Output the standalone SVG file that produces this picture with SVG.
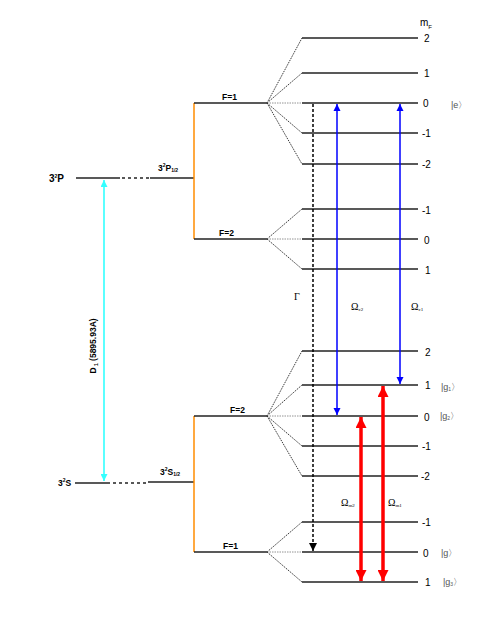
<svg xmlns="http://www.w3.org/2000/svg" width="485" height="627" viewBox="0 0 485 627">
<style>
.lv{stroke:#222;stroke-width:1.6;fill:none}
.fan{stroke:#222;stroke-width:0.9;stroke-dasharray:1.5,1;fill:none}
.fan0{stroke:#888;stroke-width:0.9;stroke-dasharray:1.5,1;fill:none}
.or{stroke:#ff8c00;stroke-width:1.5;fill:none}
.dot{stroke:#222;stroke-width:1.6;stroke-dasharray:3,3;fill:none}
.b{font-family:"Liberation Sans",Arial,sans-serif;font-weight:bold;font-size:8.5px;fill:#000}
.bl{font-family:"Liberation Sans",Arial,sans-serif;font-weight:bold;font-size:10px;fill:#000}
.n{font-family:"Liberation Sans",Arial,sans-serif;font-size:10px;fill:#000}
.s{font-family:"Liberation Sans",Arial,sans-serif;font-size:9px;fill:#555}
.om{font-family:"Liberation Serif","Times New Roman",serif;font-size:10px;fill:#000}
.sub{font-size:5px}
</style>
<defs>
<marker id="bh" viewBox="0 0 10 10" refX="10" refY="5" markerWidth="7" markerHeight="9" markerUnits="userSpaceOnUse" orient="auto-start-reverse"><path d="M0,0 L10,5 L0,10 z" fill="#0000ff"/></marker>
<marker id="rh" viewBox="0 0 10 10" refX="10" refY="5" markerWidth="12" markerHeight="11" markerUnits="userSpaceOnUse" orient="auto-start-reverse"><path d="M0,0 L10,5 L0,10 z" fill="#ff0000"/></marker>
<marker id="ch" viewBox="0 0 10 10" refX="10" refY="5" markerWidth="8" markerHeight="7" markerUnits="userSpaceOnUse" orient="auto-start-reverse"><path d="M0,0 L10,5 L0,10 z" fill="#33ffff"/></marker>
<marker id="kh" viewBox="0 0 10 10" refX="10" refY="5" markerWidth="9" markerHeight="8" markerUnits="userSpaceOnUse" orient="auto"><path d="M0,0 L10,5 L0,10 z" fill="#000"/></marker>
</defs>

<g id="fine-P">
<line class="lv" x1="76" y1="178" x2="120" y2="178"/>
<line class="dot" x1="122" y1="178" x2="150" y2="178"/>
<line class="lv" x1="150" y1="178" x2="194" y2="178"/>
<text class="bl" x="49" y="182">3<tspan class="sub" dy="-4">2</tspan><tspan dy="4">P</tspan></text>
<text class="b" x="158" y="171">3<tspan class="sub" dy="-4">2</tspan><tspan dy="4">P</tspan><tspan class="sub" dy="1">1/2</tspan></text>
<line class="or" x1="194" y1="103" x2="194" y2="239"/>
</g>

<g id="fine-S">
<line class="lv" x1="75" y1="483" x2="110" y2="483"/>
<line class="dot" x1="113" y1="483" x2="148" y2="483"/>
<line class="lv" x1="148" y1="482" x2="194" y2="482"/>
<text class="b" x="58" y="486">3<tspan class="sub" dy="-4">2</tspan><tspan dy="4">S</tspan></text>
<text class="b" x="160" y="475">3<tspan class="sub" dy="-4">2</tspan><tspan dy="4">S</tspan><tspan class="sub" dy="1">1/2</tspan></text>
<line class="or" x1="194" y1="416" x2="194" y2="552"/>
</g>

<g id="P-F1">
<line class="lv" x1="194" y1="103" x2="267" y2="103"/>
<text class="b" x="222" y="100">F=1</text>
<line class="fan" x1="267" y1="103" x2="302" y2="38"/>
<line class="fan" x1="267" y1="103" x2="302" y2="73"/>
<line class="fan0" x1="267" y1="103" x2="302" y2="103"/>
<line class="fan" x1="267" y1="103" x2="302" y2="133"/>
<line class="fan" x1="267" y1="103" x2="302" y2="164"/>
<line class="lv" x1="302" y1="38" x2="418" y2="38"/>
<line class="lv" x1="302" y1="73" x2="418" y2="73"/>
<line class="lv" x1="302" y1="103" x2="418" y2="103"/>
<line class="lv" x1="302" y1="133" x2="418" y2="133"/>
<line class="lv" x1="302" y1="164" x2="418" y2="164"/>
<text class="n" x="424" y="42">2</text>
<text class="n" x="424" y="77">1</text>
<text class="n" x="423" y="107">0</text>
<text class="n" x="422" y="137">-1</text>
<text class="n" x="422" y="168">-2</text>
<text class="n" x="420" y="26" font-size="13">m<tspan font-size="6" dy="3">F</tspan></text>
<text class="s" x="451" y="108">|e〉</text>
</g>

<g id="P-F2">
<line class="lv" x1="194" y1="239" x2="267" y2="239"/>
<text class="b" x="219" y="236">F=2</text>
<line class="fan" x1="267" y1="239" x2="302" y2="209"/>
<line class="fan0" x1="267" y1="239" x2="302" y2="239"/>
<line class="fan" x1="267" y1="239" x2="302" y2="269"/>
<line class="lv" x1="302" y1="209" x2="418" y2="209"/>
<line class="lv" x1="302" y1="239" x2="418" y2="239"/>
<line class="lv" x1="302" y1="269" x2="418" y2="269"/>
<text class="n" x="422" y="214">-1</text>
<text class="n" x="424" y="244">0</text>
<text class="n" x="425" y="274">1</text>
</g>

<g id="S-F2">
<line class="lv" x1="194" y1="416" x2="267" y2="416"/>
<text class="b" x="230" y="413">F=2</text>
<line class="fan" x1="267" y1="416" x2="302" y2="351"/>
<line class="fan" x1="267" y1="416" x2="302" y2="385"/>
<line class="fan0" x1="267" y1="416" x2="302" y2="416"/>
<line class="fan" x1="267" y1="416" x2="302" y2="446"/>
<line class="fan" x1="267" y1="416" x2="302" y2="476"/>
<line class="lv" x1="302" y1="351" x2="418" y2="351"/>
<line class="lv" x1="302" y1="385" x2="418" y2="385"/>
<line class="lv" x1="302" y1="416" x2="418" y2="416"/>
<line class="lv" x1="302" y1="446" x2="418" y2="446"/>
<line class="lv" x1="302" y1="476" x2="418" y2="476"/>
<text class="n" x="425" y="356">2</text>
<text class="n" x="425" y="389">1</text>
<text class="n" x="424" y="421">0</text>
<text class="n" x="422" y="450">-1</text>
<text class="n" x="421" y="480">-2</text>
<text class="s" x="441" y="390">|g<tspan font-size="5" dy="1">1</tspan><tspan dy="-1">〉</tspan></text>
<text class="s" x="440" y="419">|g<tspan font-size="5" dy="1">2</tspan><tspan dy="-1">〉</tspan></text>
</g>

<g id="S-F1">
<line class="lv" x1="194" y1="552" x2="267" y2="552"/>
<text class="b" x="223" y="549">F=1</text>
<line class="fan" x1="267" y1="552" x2="302" y2="522"/>
<line class="fan0" x1="267" y1="552" x2="302" y2="552"/>
<line class="fan" x1="267" y1="552" x2="302" y2="582"/>
<line class="lv" x1="302" y1="522" x2="418" y2="522"/>
<line class="lv" x1="302" y1="552" x2="418" y2="552"/>
<line class="lv" x1="302" y1="582" x2="418" y2="582"/>
<text class="n" x="422" y="526">-1</text>
<text class="n" x="423" y="557">0</text>
<text class="n" x="425" y="586">1</text>
<text class="s" x="441" y="556">|g〉</text>
<text class="s" x="443" y="585">|g<tspan font-size="5" dy="1">3</tspan><tspan dy="-1">〉</tspan></text>
</g>

<g id="connectors">
<line x1="104" y1="180" x2="104" y2="481" stroke="#33ffff" stroke-width="1.6" marker-start="url(#ch)" marker-end="url(#ch)"/>
<line x1="313" y1="104" x2="313" y2="551" stroke="#000" stroke-width="1.5" stroke-dasharray="3,2" marker-end="url(#kh)"/>
<line x1="337" y1="104" x2="337" y2="415" stroke="#0000ff" stroke-width="1.5" marker-start="url(#bh)" marker-end="url(#bh)"/>
<line x1="400" y1="104" x2="400" y2="384" stroke="#0000ff" stroke-width="1.5" marker-start="url(#bh)" marker-end="url(#bh)"/>
<line x1="361" y1="417" x2="361" y2="581" stroke="#ff0000" stroke-width="3.5" marker-start="url(#rh)" marker-end="url(#rh)"/>
<line x1="383" y1="386" x2="383" y2="581" stroke="#ff0000" stroke-width="3.5" marker-start="url(#rh)" marker-end="url(#rh)"/>
</g>

<g id="labels">
<text class="b" transform="translate(96,346) rotate(-90)" text-anchor="middle">D<tspan class="sub" dy="2"> 1</tspan><tspan dy="-2"> (5895.93A)</tspan></text>
<text class="om" x="294" y="300">Γ</text>
<text class="om" x="351" y="310">Ω<tspan font-size="5" dy="1">c2</tspan></text>
<text class="om" x="411" y="310">Ω<tspan font-size="5" dy="1">c1</tspan></text>
<text class="om" x="341" y="506">Ω<tspan font-size="5" dy="1">m2</tspan></text>
<text class="om" x="388" y="506">Ω<tspan font-size="5" dy="1">m1</tspan></text>
</g>
</svg>
